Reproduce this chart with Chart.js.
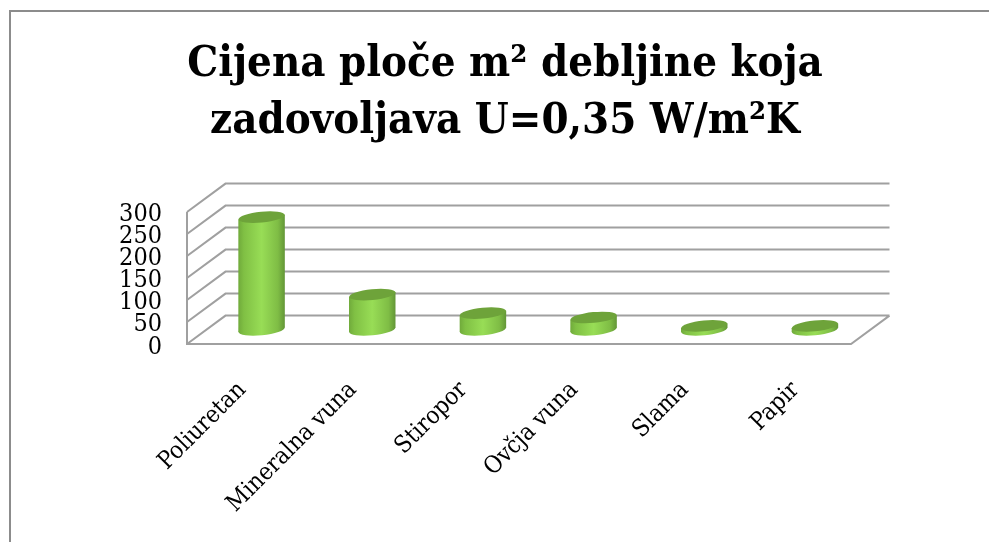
<!DOCTYPE html>
<html>
<head>
<meta charset="utf-8">
<style>
  html, body { margin: 0; padding: 0; background: #fff; overflow: hidden; }
  #frame { position: absolute; left: 9px; top: 10px; right: 0; bottom: 0; border-top: 2px solid #8c8c8c; border-left: 2px solid #8c8c8c; }
  canvas { position: absolute; left: 0; top: 0; }
</style>
<script src="https://cdn.jsdelivr.net/npm/chart.js@4"></script>
</head>
<body>
<div id="frame"></div>
<canvas id="myChart" width="989" height="542"></canvas>
<script>
const categories = ["Poliuretan", "Mineralna vuna", "Stiropor", "Ovčja vuna", "Slama", "Papir"];
const values = [256, 80, 38, 28, 9, 9];
const titleLines = ["Cijena ploče m² debljine koja", "zadovoljava U=0,35 W/m²K"];
const yTicks = [0, 50, 100, 150, 200, 250, 300];

const fontName = "'DejaVu Serif Condensed', 'DejaVu Serif', serif";
const depthX = 38.5, depthY = 28.4;

// back wall, side wall and floor of the fake 3d box
const box3d = {
  id: 'box3d',
  beforeDraw(chart) {
    // digits of this font sit a bit high against the grid
    chart.scales.y.getLabelItems().forEach((item) => {
      if (!item.nudged) {
        item.options.translation[1] += 3;
        item.nudged = true;
      }
    });
  },
  beforeDatasetsDraw(chart) {
    const { ctx, chartArea: a, scales: { y } } = chart;
    ctx.save();
    ctx.strokeStyle = '#a0a0a0';
    ctx.lineWidth = 2;
    ctx.beginPath();
    yTicks.forEach((t) => {
      const py = y.getPixelForValue(t);
      ctx.moveTo(a.left, py);
      ctx.lineTo(a.left + depthX, py - depthY);
      ctx.lineTo(a.right + depthX, py - depthY);
    });
    ctx.moveTo(a.left, a.top);
    ctx.lineTo(a.left, a.bottom);
    ctx.lineTo(a.right, a.bottom);
    ctx.lineTo(a.right + depthX, a.bottom - depthY);
    ctx.stroke();
    ctx.restore();
  }
};

function ellipse(ctx, x, y, rx, ry, rot) {
  ctx.beginPath();
  ctx.ellipse(x, y, rx, ry, rot, 0, Math.PI * 2);
}

// cylinders take their place from the bar elements of the dataset
const cylinders = {
  id: 'cylinders',
  afterDatasetsDraw(chart) {
    const { ctx } = chart;
    const rot = -0.1, ry = 5.4;
    chart.getDatasetMeta(0).data.forEach((bar) => {
      const rx = bar.width / 2;
      const cx = bar.x + depthX / 2;
      const top = bar.y - depthY / 2;
      const base = bar.base - depthY / 2;
      const lift = rx * Math.sin(-rot);
      const g = ctx.createLinearGradient(cx - rx, 0, cx + rx, 0);
      g.addColorStop(0, '#70aa3b');
      g.addColorStop(0.12, '#80c044');
      g.addColorStop(0.5, '#98dd56');
      g.addColorStop(0.85, '#7fbd45');
      g.addColorStop(1, '#639637');
      ctx.save();
      ctx.fillStyle = g;
      ellipse(ctx, cx, base, rx, ry, rot);
      ctx.fill();
      ctx.beginPath();
      ctx.moveTo(cx - rx, top + lift);
      ctx.lineTo(cx + rx, top - lift);
      ctx.lineTo(cx + rx, base - lift);
      ctx.lineTo(cx - rx, base + lift);
      ctx.closePath();
      ctx.fill();
      ctx.fillStyle = '#6ea33a';
      ellipse(ctx, cx, top, rx, ry, rot);
      ctx.fill();
      ctx.restore();
    });
  }
};

new Chart(document.getElementById('myChart'), {
  type: 'bar',
  data: {
    labels: categories,
    datasets: [{
      data: values,
      backgroundColor: 'rgba(0,0,0,0)',
      categoryPercentage: 1,
      barPercentage: 0.42
    }]
  },
  options: {
    responsive: false,
    animation: false,
    layout: { padding: { left: 21, right: 0, top: 37, bottom: 0 } },
    plugins: {
      legend: { display: false },
      tooltip: { enabled: false },
      title: {
        display: true,
        text: titleLines,
        color: '#000',
        font: { family: fontName, size: 43.3, weight: 'bold', lineHeight: 1.3 },
        padding: { top: 0, bottom: 62.4 }
      }
    },
    scales: {
      x: {
        border: { display: false },
        grid: { display: false, drawTicks: false },
        afterFit(scale) { scale.height = 198; },
        ticks: {
          autoSkip: false,
          minRotation: 45,
          maxRotation: 45,
          padding: 32,
          color: '#000',
          font: { family: fontName, size: 24 }
        }
      },
      y: {
        min: 0,
        max: 300,
        border: { display: false },
        grid: { display: false, drawTicks: false },
        afterFit(scale) { scale.width = 166; },
        afterBuildTicks(scale) { scale.ticks = yTicks.map((v) => ({ value: v })); },
        ticks: {
          autoSkip: false,
          padding: 25,
          color: '#000',
          font: { family: fontName, size: 25 }
        }
      },
      // empty axis, only holds the space right of the plot
      spacer: {
        position: 'right',
        border: { display: false },
        grid: { display: false, drawTicks: false },
        ticks: { display: false },
        afterFit(scale) { scale.width = 138; }
      }
    }
  },
  plugins: [box3d, cylinders]
});
</script>
</body>
</html>
